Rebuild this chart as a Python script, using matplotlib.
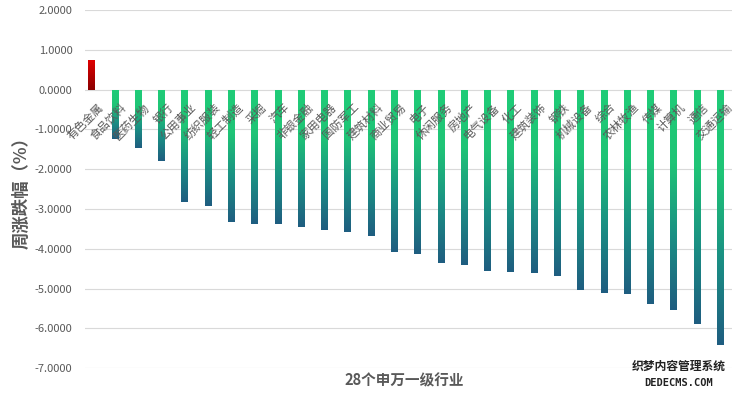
import numpy as np
import matplotlib.pyplot as plt
from matplotlib.colors import LinearSegmentedColormap

plt.rcParams['font.family'] = ['Noto Sans CJK SC', 'DejaVu Sans']

industries = ['有色金属', '食品饮料', '医药生物', '银行', '公用事业', '纺织服装', '轻工制造',
              '采掘', '汽车', '非银金融', '家用电器', '国防军工', '建筑材料', '商业贸易',
              '电子', '休闲服务', '房地产', '电气设备', '化工', '建筑装饰', '钢铁',
              '机械设备', '综合', '农林牧渔', '传媒', '计算机', '通信', '交通运输']
weekly_change = [0.73, -1.24, -1.47, -1.80, -2.83, -2.93, -3.33,
                 -3.37, -3.38, -3.45, -3.52, -3.58, -3.68, -4.08,
                 -4.13, -4.35, -4.40, -4.55, -4.58, -4.60, -4.68,
                 -5.03, -5.10, -5.13, -5.38, -5.55, -5.90, -6.43]
y_ticks = [2, 1, 0, -1, -2, -3, -4, -5, -6, -7]

grey = '#595959'
green_cmap = LinearSegmentedColormap.from_list('g', ['#1f5d80', '#1a8f84', '#1fc476', '#20cc78'])
red_cmap = LinearSegmentedColormap.from_list('r', ['#8a0000', '#e00000'])

fig = plt.figure(figsize=(7.38, 3.98), dpi=100)
ax = fig.add_axes([0.115, 0.075, 0.877, 0.90])

x = np.arange(len(industries))
bars = ax.bar(x, weekly_change, width=0.3, color='none', zorder=3)

grad = np.linspace(0, 1, 256).reshape(-1, 1)
for b, v in zip(bars, weekly_change):
    x0, w = b.get_x(), b.get_width()
    if v >= 0:
        im = ax.imshow(grad, cmap=red_cmap, origin='lower', aspect='auto',
                       extent=[x0, x0 + w, 0, v], zorder=3)
    else:
        im = ax.imshow(grad, cmap=green_cmap, origin='lower', aspect='auto',
                       extent=[x0, x0 + w, v, 0], zorder=3)
    im.set_clip_path(b)

for i, name in enumerate(industries):
    ax.text(i + 0.25, -0.3, name, rotation=45, rotation_mode='anchor',
            ha='right', va='top', fontsize=8.2, color=grey, zorder=4)

ax.set_xlim(-0.3, len(industries) - 0.5)
ax.set_ylim(-7, 2)
ax.set_yticks(y_ticks)
ax.set_yticklabels(['%.4f' % t for t in y_ticks], fontsize=8, color=grey)
ax.set_xticks([])
ax.tick_params(axis='y', length=0, pad=9)
ax.grid(axis='y', color='#d9d9d9', linewidth=0.8, zorder=0)
for s in ax.spines.values():
    s.set_visible(False)

ax.set_ylabel('周涨跌幅（%）', fontsize=12.5, color=grey, fontweight='bold', labelpad=3)
fig.text(0.548, 0.045, '28个申万一级行业', ha='center', va='center',
         fontsize=10.5, color=grey, fontweight='bold')

fig.text(0.92, 0.08, '织梦内容管理系统', ha='center', va='center',
         fontsize=8.5, color='#222222', fontweight='bold')
fig.text(0.92, 0.037, 'DEDECMS.COM', ha='center', va='center',
         fontsize=7.5, color='#222222', fontweight='bold', family='DejaVu Sans Mono')

fig.savefig('out.png', dpi=100, facecolor='white')
